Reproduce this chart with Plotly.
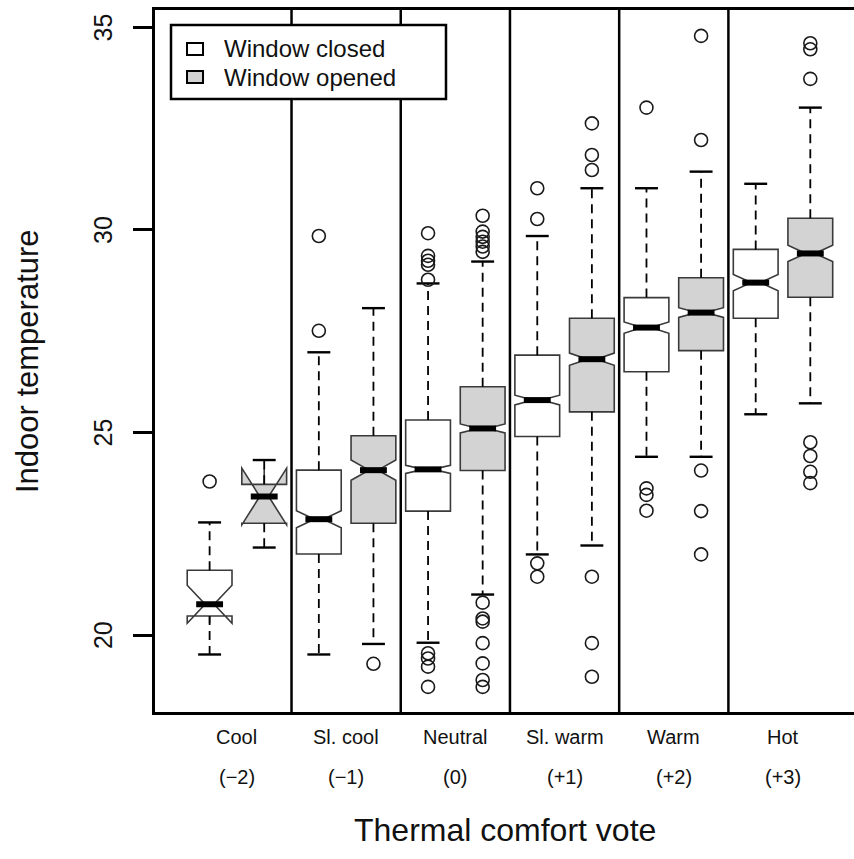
import plotly.graph_objects as go

# ---------------- data ----------------
categories = ["Cool", "Sl. cool", "Neutral", "Sl. warm", "Warm", "Hot"]
votes = ["(−2)", "(−1)", "(0)", "(+1)", "(+2)", "(+3)"]
series_names = ["Window closed", "Window opened"]
y_ticks = [20, 25, 30, 35]

closed_q1 = [20.47, 22.00, 23.06, 24.90, 26.50, 27.82]
closed_med = [20.76, 22.86, 24.09, 25.80, 27.59, 28.70]
closed_q3 = [21.60, 24.07, 25.31, 26.91, 28.33, 29.52]
closed_lo = [19.52, 19.52, 19.81, 21.99, 24.40, 25.45]
closed_hi = [22.78, 26.98, 28.68, 29.85, 31.03, 31.14]
closed_notch = [0.47, 0.21, 0.10, 0.12, 0.14, 0.20]
closed_out = [
    [23.79],
    [27.51, 29.85],
    [29.92, 29.36, 29.24, 29.14, 28.77, 19.55, 19.42, 19.22, 18.72],
    [31.03, 30.27, 21.77, 21.44],
    [33.02, 23.62, 23.46, 23.07],
    [],
]

open_q1 = [22.76, 22.76, 24.06, 25.51, 27.02, 28.34]
open_med = [23.42, 24.07, 25.10, 26.81, 27.96, 29.42]
open_q3 = [23.72, 24.92, 26.13, 27.82, 28.82, 30.29]
open_lo = [22.16, 19.78, 21.00, 22.21, 24.40, 25.72]
open_hi = [24.32, 28.07, 29.22, 31.03, 31.44, 33.02]
open_notch = [0.70, 0.25, 0.11, 0.15, 0.12, 0.20]
open_out = [
    [],
    [19.29],
    [30.35, 29.96, 29.83, 29.71, 29.59, 29.46, 20.80, 20.41, 20.33, 19.80, 19.30, 18.89, 18.72],
    [32.63, 31.85, 31.48, 21.44, 19.80, 18.97],
    [34.79, 32.22, 24.06, 23.06, 21.99],
    [34.61, 34.46, 33.73, 24.76, 24.42, 24.03, 23.75],
]

# ---------------- styling constants ----------------
FONT = "Liberation Sans, Arial, Helvetica, sans-serif"
BOX_W = 0.82
NOTCH_W = 0.4
CAP_HALF = 0.21
BOX_LINE = "#3a3a3a"
GRAY_FILL = "#d3d3d3"

n = len(categories)
pos_closed = [2 * i + 1 for i in range(n)]
pos_open = [2 * i + 2 for i in range(n)]

series = [
    dict(name=series_names[0], pos=pos_closed, q1=closed_q1, med=closed_med, q3=closed_q3,
         lo=closed_lo, hi=closed_hi, notch=closed_notch, out=closed_out, fill="white"),
    dict(name=series_names[1], pos=pos_open, q1=open_q1, med=open_med, q3=open_q3,
         lo=open_lo, hi=open_hi, notch=open_notch, out=open_out, fill=GRAY_FILL),
]

fig = go.Figure()

# boxes (whiskers drawn separately, dashed like R)
for s in series:
    fig.add_trace(go.Box(
        x=s["pos"], q1=s["q1"], median=s["med"], q3=s["q3"],
        lowerfence=s["q1"], upperfence=s["q3"],
        notched=True, notchspan=s["notch"], notchwidth=NOTCH_W,
        width=BOX_W, fillcolor=s["fill"],
        line=dict(color=BOX_LINE, width=1.6),
        whiskerwidth=0, boxpoints=False,
        name=s["name"], showlegend=False, hoverinfo="skip",
    ))

# whiskers, caps, medians, outliers
wx, wy, cx, cy, mx, my, ox, oy = [], [], [], [], [], [], [], []
med_half = BOX_W / 2 * (1 - NOTCH_W)
for s in series:
    for i, p in enumerate(s["pos"]):
        wx += [p, p, None, p, p, None]
        wy += [s["q3"][i], s["hi"][i], None, s["q1"][i], s["lo"][i], None]
        cx += [p - CAP_HALF, p + CAP_HALF, None, p - CAP_HALF, p + CAP_HALF, None]
        cy += [s["hi"][i], s["hi"][i], None, s["lo"][i], s["lo"][i], None]
        mx += [p - med_half, p + med_half, None]
        my += [s["med"][i], s["med"][i], None]
        for v in s["out"][i]:
            ox.append(p)
            oy.append(v)

fig.add_trace(go.Scatter(x=wx, y=wy, mode="lines", line=dict(color="black", width=1.8, dash="9px,6px"),
                         showlegend=False, hoverinfo="skip"))
fig.add_trace(go.Scatter(x=cx, y=cy, mode="lines", line=dict(color="black", width=2.4),
                         showlegend=False, hoverinfo="skip"))
fig.add_trace(go.Scatter(x=mx, y=my, mode="lines", line=dict(color="black", width=6),
                         showlegend=False, hoverinfo="skip"))
fig.add_trace(go.Scatter(x=ox, y=oy, mode="markers",
                         marker=dict(symbol="circle-open", size=13, color="#1a1a1a", line=dict(width=1.6)),
                         showlegend=False, hoverinfo="skip"))

# group dividers
for k in range(1, n):
    fig.add_shape(type="line", xref="x", yref="paper", x0=2 * k + 0.5, x1=2 * k + 0.5, y0=0, y1=1,
                  line=dict(color="black", width=2.5))

# manual legend (R-style)
fig.add_shape(type="rect", xref="paper", yref="paper", x0=0.0229, x1=0.4163, y0=0.8732, y1=0.9786,
              line=dict(color="black", width=2.5), fillcolor="white")
leg_rows = [(0.9445, "white"), (0.9045, GRAY_FILL)]
for (yc, fill), name in zip(leg_rows, series_names):
    fig.add_shape(type="rect", xref="paper", yref="paper", x0=0.0458, x1=0.0687,
                  y0=yc - 0.0086, y1=yc + 0.0086, line=dict(color="black", width=2), fillcolor=fill)
    fig.add_annotation(xref="paper", yref="paper", x=0.0959, y=yc, text=name, showarrow=False,
                       xanchor="left", yanchor="middle", font=dict(family=FONT, size=24, color="#111"))

# y tick labels (rotated like R)
for t in y_ticks:
    fig.add_annotation(xref="paper", yref="y", x=-0.0744, y=t, text=str(t), showarrow=False,
                       textangle=-90, xanchor="center", yanchor="middle",
                       font=dict(family=FONT, size=25, color="#111"))

# category labels
for i, (c, v) in enumerate(zip(categories, votes)):
    xc = (pos_closed[i] + pos_open[i]) / 2
    fig.add_annotation(xref="x", yref="paper", x=xc, y=-0.0356, text=c, showarrow=False,
                       yanchor="middle", font=dict(family=FONT, size=20, color="#111"))
    fig.add_annotation(xref="x", yref="paper", x=xc, y=-0.0926, text=v, showarrow=False,
                       yanchor="middle", font=dict(family=FONT, size=20, color="#111"))

# axis titles
fig.add_annotation(xref="paper", yref="paper", x=0.5, y=-0.168, text="Thermal comfort vote",
                   showarrow=False, yanchor="middle", font=dict(family=FONT, size=32, color="#111"))
fig.add_annotation(xref="paper", yref="paper", x=-0.183, y=0.5, text="Indoor temperature",
                   showarrow=False, textangle=-90, xanchor="center", yanchor="middle",
                   font=dict(family=FONT, size=31, color="#111"))

fig.update_layout(
    width=854, height=859,
    margin=dict(l=155, r=0, t=10, b=147),
    paper_bgcolor="white", plot_bgcolor="white",
    font=dict(family=FONT, color="#111"),
    showlegend=False,
    xaxis=dict(range=[0, 12.8], showticklabels=False, ticks="", showgrid=False, zeroline=False,
               showline=True, mirror=True, linecolor="black", linewidth=2.5),
    yaxis=dict(range=[18.10, 35.43], tickvals=y_ticks, showticklabels=False, ticks="outside", ticklen=19,
               tickwidth=2.5, tickcolor="black", showgrid=False, zeroline=False,
               showline=True, linecolor="black", linewidth=2.5),
)

fig.write_html("out.html")
